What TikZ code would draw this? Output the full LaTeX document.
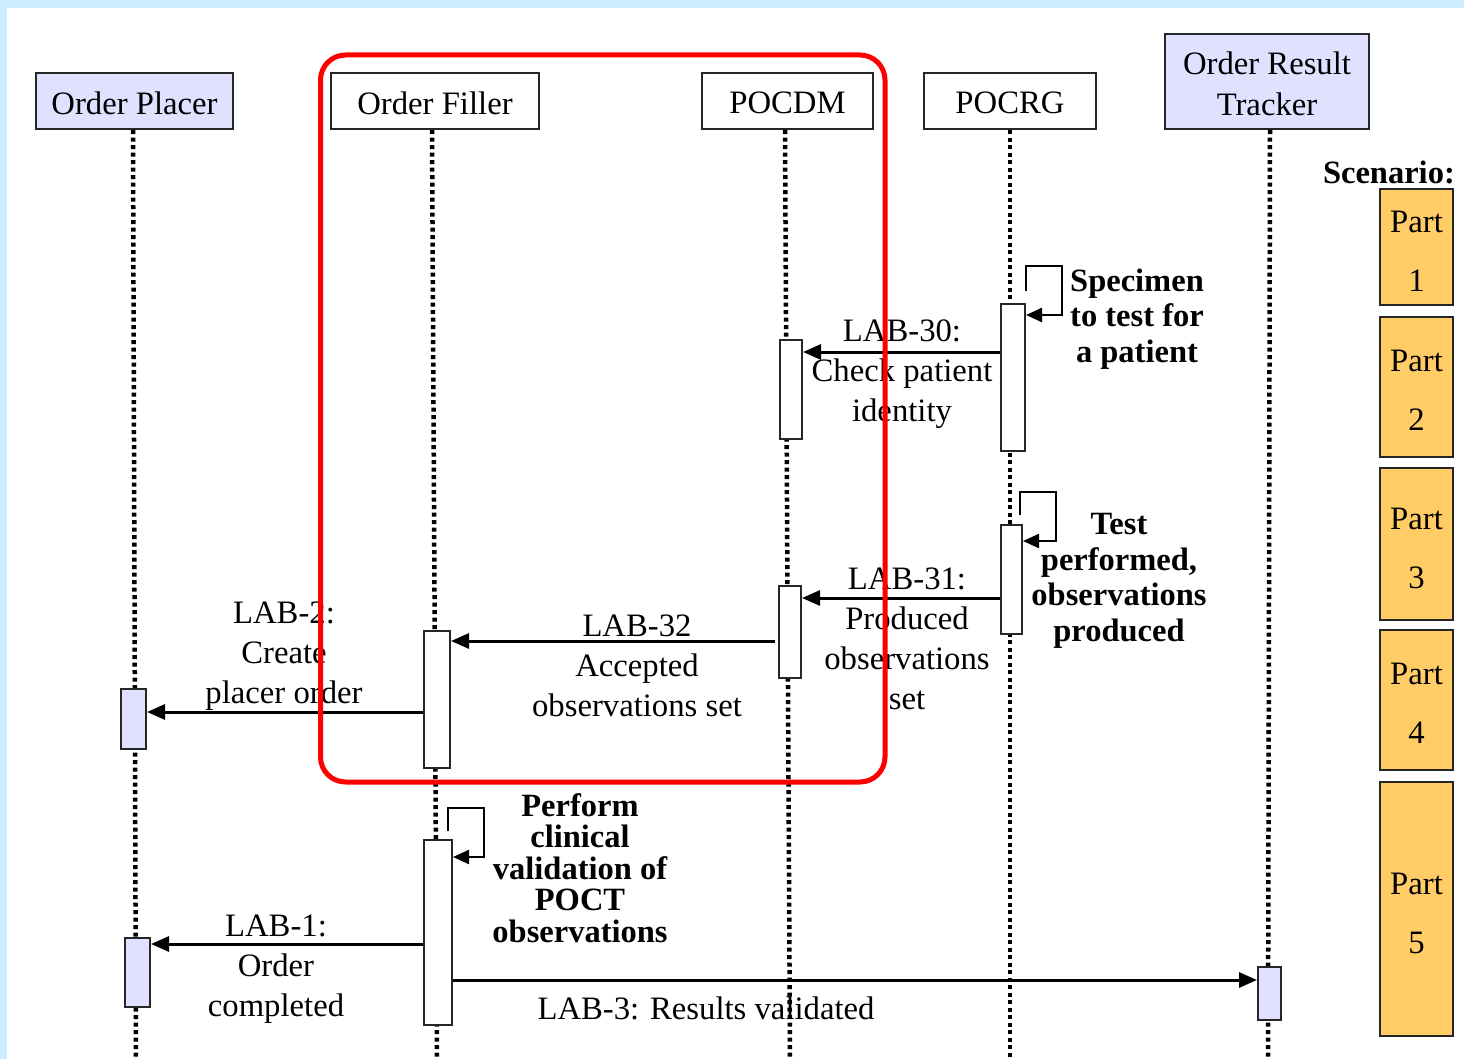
\documentclass[tikz,border=0pt]{standalone}
\usepackage{fontspec}
\setmainfont{Liberation Serif}
\usetikzlibrary{arrows.meta}
\definecolor{bluebg}{RGB}{204,236,255}
\definecolor{lav}{RGB}{224,224,255}
\definecolor{partc}{RGB}{255,204,102}
\tikzset{
  actor/.style={draw=black!85, line width=2.2pt, minimum height=56pt, inner sep=0pt, align=center,
    font=\fontsize{32.7}{41}\selectfont},
  life/.style={line width=4.5pt, dash pattern=on 4pt off 3.5pt},
  act/.style={draw=black!85, line width=2pt, fill=white, inner sep=0pt},
  msg/.style={line width=3pt, -{Triangle[length=18pt,width=15pt]}},
  selfloop/.style={line width=2.4pt, -{Triangle[length=16pt,width=14pt]}},
  lbl/.style={align=center, inner sep=0pt, font=\fontsize{32.7}{40}\selectfont},
  blbl/.style={align=center, inner sep=0pt, font=\bfseries\fontsize{32.5}{35.5}\selectfont},
  partbox/.style={draw=black!85, line width=2pt, fill=partc, minimum width=73pt, inner sep=0pt,
    align=center, font=\fontsize{32.7}{59}\selectfont},
}
\begin{document}
\begin{tikzpicture}[x=1pt,y=-1pt]
\useasboundingbox (0,0) rectangle (1464,1059);
\fill[white] (0,0) rectangle (1464,1059);
\fill[bluebg] (0,0) rectangle (1464,8);
\fill[bluebg] (0,0) rectangle (7,1059);

% actors
\node[actor, fill=lav, minimum width=197pt] (op) at (134.5,101) {};
\node[actor, fill=white, minimum width=208pt] (of) at (435,101) {};
\node[actor, fill=white, minimum width=171pt] (dm) at (787.5,101) {};
\node[actor, fill=white, minimum width=172pt] (rg) at (1010,101) {};
\node[actor, fill=lav, minimum width=204pt, minimum height=95pt] (ort) at (1267,81.5) {};
\node[lbl] at ([yshift=-2pt]op.center) {Order Placer};
\node[lbl] at ([yshift=-2pt]of.center) {Order Filler};
\node[lbl] at ([yshift=-2pt]dm.center) {POCDM};
\node[lbl] at ([yshift=-2pt]rg.center) {POCRG};
\node[lbl, font=\fontsize{32.7}{41}\selectfont] at ([yshift=-2pt]ort.center) {Order Result\\Tracker};

% lifeline ends
\coordinate (opE) at (136,1059);
\coordinate (ofE) at (437,1059);
\coordinate (dmE) at (790,1059);
\coordinate (rgE) at (1010,1059);
\coordinate (ortE) at (1268,1059);
\draw[life] (op.south -| 133,0) -- (opE);
\draw[life] (of.south -| 432,0) -- (ofE);
\draw[life] (dm.south -| 785,0) -- (dmE);
\draw[life] (rg.south) -- (rgE);
\draw[life] (ort.south -| 1270,0) -- (ortE);

% activations
\node[act, minimum width=24pt, minimum height=147pt] (rg1) at (1013,377.5) {};
\node[act, minimum width=21pt, minimum height=109pt] (rg2) at (1011.5,579.5) {};
\node[act, minimum width=22pt, minimum height=99pt] (dm1) at (791,389.5) {};
\node[act, minimum width=22pt, minimum height=92pt] (dm2) at (790,632) {};
\node[act, minimum width=26pt, minimum height=137pt] (of1) at (437,699.5) {};
\node[act, minimum width=28pt, minimum height=185pt] (of2) at (438,932.5) {};
\node[act, fill=lav, minimum width=25pt, minimum height=60pt] (op1) at (133.5,719) {};
\node[act, fill=lav, minimum width=25pt, minimum height=69pt] (op2) at (137.5,972.5) {};
\node[act, fill=lav, minimum width=23pt, minimum height=53pt] (ort1) at (1269.5,993.5) {};

% self loops
\draw[selfloop] ([yshift=12pt]rg1.north east) |- (1062,266) |- (rg1.east |- 0,315);
\draw[selfloop] ([xshift=-3pt,yshift=9pt]rg2.north east) |- (1056,492) |- (rg2.east |- 0,541);
\draw[selfloop] ([xshift=-5pt,yshift=8pt]of2.north east) |- (484,808) |- (of2.east |- 0,857);

% messages
\draw[msg] (rg1.west |- 0,352) -- (dm1.east |- 0,352);
\draw[msg] (rg2.west |- 0,598) -- (dm2.east |- 0,598);
\draw[msg] ([xshift=-3pt]dm2.west |- 0,641) -- (of1.east |- 0,641);
\draw[msg] (of1.west |- 0,712) -- (op1.east |- 0,712);
\draw[msg] (of2.west |- 0,944) -- (op2.east |- 0,944);
\draw[msg] (of2.east |- 0,980) -- (ort1.west |- 0,980);

% message labels
\node[lbl] (t30) at (902,374) {LAB-30:\\Check patient\\identity};
\node[lbl] (t31) at (907,639) {LAB-31:\\Produced\\observations\\set};
\node[lbl] (t32) at (637,666) {LAB-32\\Accepted\\observations set};
\node[lbl] (t2) at (284,656) {LAB-2:\\Create\\placer order};
\node[lbl] (t1) at (276,969) {LAB-1:\\Order\\completed};
\node[lbl] (t3) at (706,1008) {LAB-3: Results validated};

% bold notes
\node[blbl] (n1) at (1137,319) {Specimen\\to test for\\a patient};
\node[blbl] (n2) at (1119,581) {Test\\performed,\\observations\\produced};
\node[blbl, font=\bfseries\fontsize{32.5}{31.5}\selectfont] (n3) at (580,868) {Perform\\clinical\\validation of\\POCT\\observations};

% scenario
\node[blbl, anchor=east] (sc) at (1455,172) {Scenario:};
\node[partbox, minimum height=116pt] (p1) at (1416.5,247) {};
\node[partbox, minimum height=140pt] (p2) at (1416.5,387) {};
\node[partbox, minimum height=152pt] (p3) at (1416.5,544) {};
\node[partbox, minimum height=140pt] (p4) at (1416.5,700) {};
\node[partbox, minimum height=254pt] (p5) at (1416.5,909) {};
\node[lbl, font=\fontsize{32.7}{59}\selectfont] at (1416.5,251) {Part\\1};
\node[lbl, font=\fontsize{32.7}{59}\selectfont] at (1416.5,390.5) {Part\\2};
\node[lbl, font=\fontsize{32.7}{59}\selectfont] at (1416.5,548) {Part\\3};
\node[lbl, font=\fontsize{32.7}{59}\selectfont] at (1416.5,703.5) {Part\\4};
\node[lbl, font=\fontsize{32.7}{59}\selectfont] at (1416.5,913.5) {Part\\5};

% red highlight
\draw[red, line width=5pt, rounded corners=25pt] (320.5,55) rectangle (885,782);
\end{tikzpicture}
\end{document}
